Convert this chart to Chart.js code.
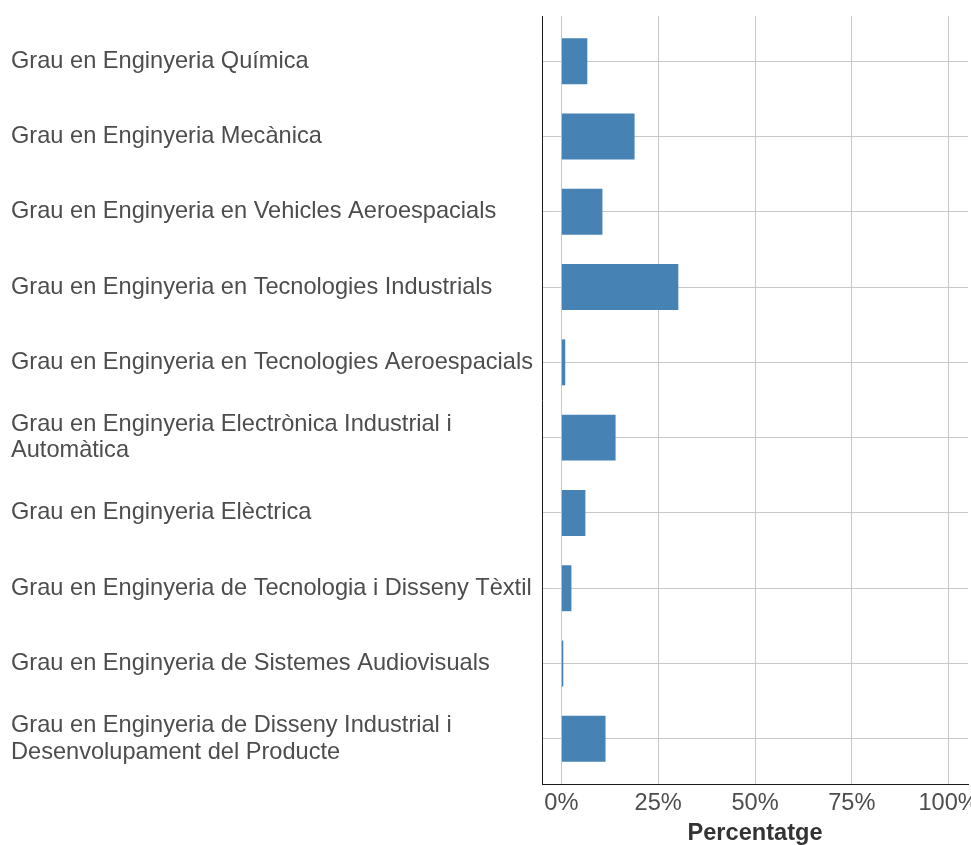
<!DOCTYPE html>
<html>
<head>
<meta charset="utf-8">
<script src="https://cdn.jsdelivr.net/npm/chart.js@4/dist/chart.umd.min.js"></script>
<style>
  html, body { margin: 0; padding: 0; background: #fff; }
  #wrap { width: 971px; height: 845px; position: relative; }
</style>
</head>
<body>
<div id="wrap"><canvas id="chart"></canvas></div>
<script>
// Degree programmes (top to bottom) and their share
const categories = [
    'Grau en Enginyeria Química',
    'Grau en Enginyeria Mecànica',
    'Grau en Enginyeria en Vehicles Aeroespacials',
    'Grau en Enginyeria en Tecnologies Industrials',
    'Grau en Enginyeria en Tecnologies Aeroespacials',
    ['Grau en Enginyeria Electrònica Industrial i', 'Automàtica'],
    'Grau en Enginyeria Elèctrica',
    'Grau en Enginyeria de Tecnologia i Disseny Tèxtil',
    'Grau en Enginyeria de Sistemes Audiovisuals',
    ['Grau en Enginyeria de Disseny Industrial i', 'Desenvolupament del Producte']
];
const percentages = [6.7, 18.9, 10.6, 30.2, 1.0, 14.0, 6.2, 2.6, 0.5, 11.4];
const xTicks = [0, 25, 50, 75, 100];

const FONT = '"Liberation Sans", Arial, sans-serif';
const SIZE = 23.6;
const GRID = '#c8c8c8';

const points = percentages.map((v, i) => ({ x: v, y: i + 1 }));

new Chart(document.getElementById('chart'), {
    type: 'bar',
    data: {
        datasets: [{
            data: points,
            backgroundColor: '#4682b4',
            borderWidth: 0,
            categoryPercentage: 1,
            barPercentage: 0.61
        }]
    },
    options: {
        indexAxis: 'y',
        responsive: true,
        maintainAspectRatio: false,
        animation: false,
        layout: { padding: { left: 11, right: 3, top: 16, bottom: 0 } },
        plugins: { legend: { display: false }, tooltip: { enabled: false } },
        scales: {
            x: {
                type: 'linear',
                min: -5,
                max: 105,
                afterBuildTicks: s => { s.ticks = xTicks.map(v => ({ value: v })); },
                // let "100%" run off the edge like the original, fixed axis band height
                afterFit: s => { s.paddingRight = 0; s.paddingLeft = 0; s.height = 61; },
                grid: { color: GRID, lineWidth: 1, drawTicks: false },
                border: { display: true, color: '#1a1a1a', width: 1 },
                ticks: {
                    padding: 5,
                    font: { family: FONT, size: SIZE, lineHeight: 1.2 },
                    color: '#4d4d4d',
                    callback: v => v + '%'
                },
                title: {
                    display: true,
                    text: 'Percentatge',
                    font: { family: FONT, size: SIZE, weight: 'bold', lineHeight: 1.0 },
                    color: '#333333',
                    padding: { top: 1, bottom: 0 }
                }
            },
            y: {
                type: 'linear',
                reverse: true,
                offset: false,
                min: 0.4,
                max: 10.6,
                afterBuildTicks: s => { s.ticks = categories.map((c, i) => ({ value: i + 1 })); },
                afterFit: s => { s.paddingTop = 0; s.paddingBottom = 0; s.width = 531; },
                grid: { color: GRID, lineWidth: 1, drawTicks: false, offset: false },
                border: { display: true, color: '#1a1a1a', width: 1 },
                ticks: {
                    padding: 6,
                    crossAlign: 'far',
                    font: { family: FONT, size: SIZE, lineHeight: 1.12 },
                    color: '#4d4d4d',
                    callback: v => categories[v - 1]
                }
            }
        }
    }
});
</script>
</body>
</html>
